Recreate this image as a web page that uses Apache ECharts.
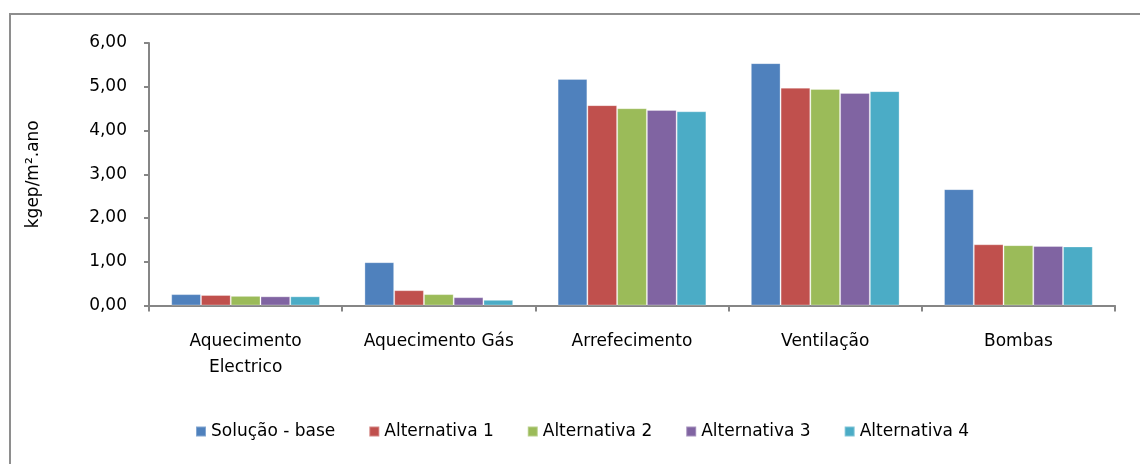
<!DOCTYPE html>
<html>
<head>
<meta charset="utf-8">
<script src="https://cdn.jsdelivr.net/npm/echarts@6/dist/echarts.min.js"></script>
<style>
  html, body { margin: 0; padding: 0; background: #ffffff; }
  #chart { width: 1140px; height: 464px; }
</style>
</head>
<body>
<div id="chart"></div>
<script>
// Energy use per end-use category (kgep/m².ano)
const categories = ['Aquecimento\nElectrico', 'Aquecimento Gás', 'Arrefecimento', 'Ventilação', 'Bombas'];
const seriesNames = ['Solução - base', 'Alternativa 1', 'Alternativa 2', 'Alternativa 3', 'Alternativa 4'];
const solucaoBase  = [0.26, 0.99, 5.18, 5.54, 2.66];
const alternativa1 = [0.24, 0.35, 4.58, 4.98, 1.40];
const alternativa2 = [0.22, 0.26, 4.51, 4.95, 1.38];
const alternativa3 = [0.21, 0.19, 4.47, 4.86, 1.36];
const alternativa4 = [0.21, 0.13, 4.44, 4.90, 1.35];
const yTicks = [0, 1, 2, 3, 4, 5, 6];

const seriesValues = [solucaoBase, alternativa1, alternativa2, alternativa3, alternativa4];
const colors = ['#4F81BD', '#C0504D', '#9BBB59', '#8064A2', '#4BACC6'];
const FONT = 'DejaVu Sans';

const chart = echarts.init(document.getElementById('chart'), null, { renderer: 'canvas' });

chart.setOption({
  animation: false,
  backgroundColor: '#ffffff',
  color: colors,
  textStyle: { fontFamily: FONT, color: '#000000' },
  graphic: [{
    type: 'rect',
    shape: { x: 10, y: 14, width: 1200, height: 500 },
    style: { fill: 'none', stroke: '#8e8e8e', lineWidth: 2 },
    silent: true
  }],
  grid: { left: 149, right: 25, top: 43, bottom: 158.5 },
  legend: {
    left: 190,
    top: 418,
    icon: 'rect',
    itemWidth: 10,
    itemHeight: 10,
    itemGap: 33,
    textStyle: { fontFamily: FONT, fontSize: 17, color: '#000000' },
    data: seriesNames
  },
  xAxis: {
    type: 'category',
    data: categories,
    axisLine: { lineStyle: { color: '#868686', width: 2 } },
    axisTick: { show: true, length: 6, alignWithLabel: false, lineStyle: { color: '#868686', width: 2 } },
    axisLabel: {
      interval: 0,
      margin: 23,
      fontFamily: FONT,
      fontSize: 17,
      lineHeight: 26,
      color: '#000000',
      verticalAlign: 'top'
    }
  },
  yAxis: {
    type: 'value',
    min: yTicks[0],
    max: yTicks[yTicks.length - 1],
    interval: 1,
    name: 'kgep/m².ano',
    nameLocation: 'middle',
    nameRotate: 90,
    nameGap: 107,
    nameTextStyle: { fontFamily: FONT, fontSize: 17, color: '#000000' },
    splitLine: { show: false },
    axisLine: { show: true, lineStyle: { color: '#868686', width: 2 } },
    axisTick: { show: true, length: 5, lineStyle: { color: '#868686', width: 2 } },
    axisLabel: {
      margin: 22,
      fontFamily: FONT,
      fontSize: 17,
      color: '#000000',
      formatter: v => v.toFixed(2).replace('.', ',')
    }
  },
  series: seriesNames.map((name, i) => ({
    name: name,
    type: 'bar',
    data: seriesValues[i],
    barGap: '0%',
    barCategoryGap: '23%',
    itemStyle: { color: colors[i], borderColor: 'rgba(255,255,255,0.3)', borderWidth: 1 }
  }))
});
</script>
</body>
</html>
